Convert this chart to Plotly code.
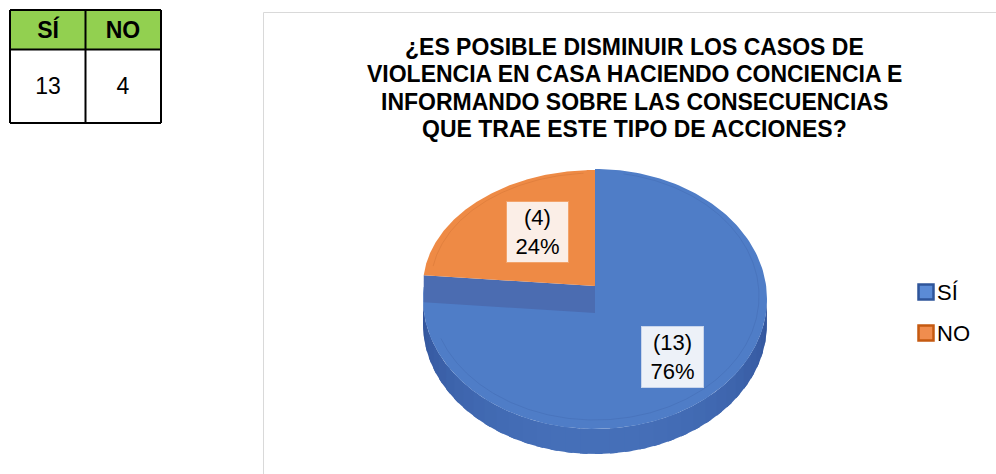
import numpy as np
import plotly.graph_objects as go

# ---- data ----
labels = ["SÍ", "NO"]
values = [13, 4]
title_lines = [
    "¿ES POSIBLE DISMINUIR LOS CASOS DE",
    "VIOLENCIA EN CASA HACIENDO CONCIENCIA E",
    "INFORMANDO SOBRE LAS CONSECUENCIAS",
    "QUE TRAE ESTE TIPO DE ACCIONES?",
]

# ---- styles / layout geometry (pixel space) ----
W, H = 996, 474
FONT = "Arial, 'Liberation Sans', sans-serif"
face_colors = ["#4F7DC7", "#EE8A45"]
legend_fill = ["#5B8BD6", "#F08D4E"]
legend_line = ["#2F559A", "#C55A11"]
box_bg = ["#EDF1F8", "#FBEEE7"]
box_line = ["#C8D5EC", "#F2A36B"]
CX, CY, RX, RY, DEPTH = 595, 299, 172, 130, 25
LIFT = 13        # raised small slice
BAND = 27        # cut face height
TAB_X = [10, 85.5, 161]   # table column edges (px)
TAB_Y = [10, 49.5, 123]   # table row edges (px)
TITLE_X, TITLE_Y0, TITLE_DY = 634, 47, 27.3

fig = go.Figure()

total = sum(values)
fracs = [v / total for v in values]

# angles (degrees), clockwise from 12 o'clock
starts, ends = [], []
a = 90.0
for f in fracs:
    starts.append(a)
    a -= 360 * f
    ends.append(a)


def arc(cx, cy, rx, ry, a0, a1, n=200):
    t = np.radians(np.linspace(a0, a1, n))
    return cx + rx * np.cos(t), cy - ry * np.sin(t)

# side (depth) of the pie: front half, shaded strips (overlapping)
nstrip = 36
edges = np.linspace(180, 360, nstrip + 1)
for i in range(nstrip):
    a0, a1 = edges[i], min(edges[i + 1] + 2.5, 360)
    xs, ys = arc(CX, CY, RX, RY, a0, a1, 14)
    px = np.concatenate([xs, xs[::-1]])
    py = np.concatenate([ys, ys[::-1] + DEPTH])
    mid = (edges[i] + edges[i + 1]) / 2
    k = abs(np.sin(np.radians(mid)))  # brighter at the front
    r = int(50 + 20 * k); g = int(84 + 28 * k); b = int(155 + 30 * k)
    fig.add_trace(go.Scatter(x=px, y=py, mode="lines", fill="toself",
                             fillcolor=f"rgb({r},{g},{b})",
                             line=dict(width=0),
                             hoverinfo="skip", showlegend=False))

# big slice (SÍ) top face
xs, ys = arc(CX, CY, RX, RY, starts[0], ends[0])
fig.add_trace(go.Scatter(x=np.concatenate([[CX], xs, [CX]]),
                         y=np.concatenate([[CY], ys, [CY]]),
                         mode="lines", fill="toself", fillcolor=face_colors[0],
                         line=dict(width=0), hoverinfo="skip", showlegend=False))
# faint inner bevel line on the face
bx, by = arc(CX, CY - 3, RX - 8, RY - 6, 200, 440, 300)
fig.add_trace(go.Scatter(x=bx, y=by, mode="lines",
                         line=dict(width=1, color="rgba(60,95,165,0.3)"),
                         hoverinfo="skip", showlegend=False))

# cut face band under the raised small slice
ocy = CY - LIFT
ory = RY - LIFT - 1
ex0, ey0 = arc(CX, ocy, RX, ory, starts[1], starts[1], 1)
fig.add_trace(go.Scatter(x=[CX, ex0[0], ex0[0], CX, CX],
                         y=[ocy, ey0[0], ey0[0] + BAND, ocy + BAND, ocy],
                         mode="lines", fill="toself", fillcolor="#4B6CB1",
                         line=dict(width=0), hoverinfo="skip", showlegend=False))

# small slice (NO) top face
xs, ys = arc(CX, ocy, RX, ory, starts[1], ends[1])
fig.add_trace(go.Scatter(x=np.concatenate([[CX], xs, [CX]]),
                         y=np.concatenate([[ocy], ys, [ocy]]),
                         mode="lines", fill="toself", fillcolor=face_colors[1],
                         line=dict(width=0), hoverinfo="skip", showlegend=False))
bx, by = arc(CX, ocy - 2, RX - 8, ory - 5, starts[1] - 4, ends[1] + 4, 100)
fig.add_trace(go.Scatter(x=bx, y=by, mode="lines",
                         line=dict(width=1, color="rgba(200,110,50,0.35)"),
                         hoverinfo="skip", showlegend=False))

# data labels
label_r = [0.6, 0.58]
label_dx = [8, 10]
label_dy = [0, -4]
centers = [(CX, CY, RY), (CX, ocy, ory)]
for i, (lab, v) in enumerate(zip(labels, values)):
    mid = np.radians((starts[i] + ends[i]) / 2)
    cx, cy, ry = centers[i]
    lx = cx + label_r[i] * RX * np.cos(mid) + label_dx[i]
    ly = cy - label_r[i] * ry * np.sin(mid) + label_dy[i]
    pct = round(100 * v / total)
    fig.add_annotation(x=lx, y=ly, xref="x", yref="y", showarrow=False,
                       text=f"({v})<br>{pct}%", align="center",
                       font=dict(family=FONT, size=22, color="#000000"),
                       bgcolor=box_bg[i], bordercolor=box_line[i],
                       borderwidth=1, borderpad=2, width=57, height=56)

# legend (manual)
leg_y = [292, 333]
for i, lab in enumerate(labels):
    fig.add_trace(go.Scatter(x=[926], y=[leg_y[i]], mode="markers",
                             marker=dict(symbol="square", size=15,
                                         color=legend_fill[i],
                                         line=dict(width=2.5, color=legend_line[i])),
                             hoverinfo="skip", showlegend=False))
    fig.add_annotation(x=935, y=leg_y[i], xref="x", yref="y", xanchor="left",
                       showarrow=False, text=lab,
                       font=dict(family=FONT, size=22, color="#000000"))

# title (one annotation per line for exact line spacing)
for i, t in enumerate(title_lines):
    fig.add_annotation(x=TITLE_X, y=TITLE_Y0 + i * TITLE_DY, xref="x", yref="y",
                       showarrow=False, text=f"<b>{t}</b>", align="center",
                       font=dict(family=FONT, size=23, color="#000000"))

# chart border
fig.add_shape(type="rect", xref="x", yref="y", x0=263.5, y0=12.5, x1=1000,
              y1=480, line=dict(color="#D9D9D9", width=1), layer="below")

# data table (header row + value row) as a heatmap grid
fig.add_trace(go.Heatmap(
    x=TAB_X, y=TAB_Y,
    z=[[0, 0], [1, 1]],
    text=[[f"<b>{l}</b>" for l in labels], [str(v) for v in values]],
    texttemplate="%{text}",
    textfont=dict(family=FONT, size=23, color="#000000"),
    colorscale=[[0, "#92D050"], [1, "#FFFFFF"]],
    showscale=False, hoverinfo="skip",
))
for xv in TAB_X:
    fig.add_shape(type="line", xref="x", yref="y", x0=xv, x1=xv,
                  y0=TAB_Y[0], y1=TAB_Y[-1], line=dict(color="#000000", width=2))
for yv in TAB_Y:
    fig.add_shape(type="line", xref="x", yref="y", x0=TAB_X[0], x1=TAB_X[-1],
                  y0=yv, y1=yv, line=dict(color="#000000", width=2))

fig.update_layout(
    width=W, height=H, margin=dict(l=0, r=0, t=0, b=0),
    paper_bgcolor="#FFFFFF", plot_bgcolor="#FFFFFF",
    xaxis=dict(range=[0, W], visible=False, fixedrange=True, domain=[0, 1]),
    yaxis=dict(range=[H, 0], visible=False, fixedrange=True, domain=[0, 1]),
    showlegend=False,
)

fig.write_html("out.html", config={"displayModeBar": False},
               post_script="document.body.style.margin='0px';")
